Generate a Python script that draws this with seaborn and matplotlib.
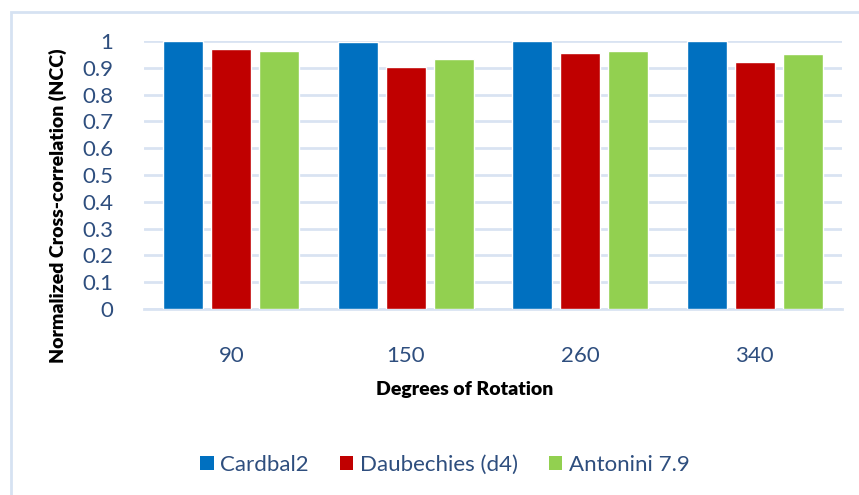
import matplotlib
matplotlib.use("Agg")
import matplotlib.pyplot as plt
import seaborn as sns
import pandas as pd
from matplotlib.patches import Rectangle, Patch

categories = ["90", "150", "260", "340"]
series = ["Cardbal2", "Daubechies (d4)", "Antonini 7.9"]
cardbal2 = [1.0, 0.996, 1.0, 1.0]
daubechies = [0.970, 0.903, 0.955, 0.922]
antonini = [0.963, 0.933, 0.963, 0.951]
colors = ["#0070C0", "#C00000", "#92D050"]
yticks = [0, 0.1, 0.2, 0.3, 0.4, 0.5, 0.6, 0.7, 0.8, 0.9, 1]
ytick_labels = ["0", "0.1", "0.2", "0.3", "0.4", "0.5", "0.6", "0.7", "0.8", "0.9", "1"]

rows = []
for name, vals in zip(series, [cardbal2, daubechies, antonini]):
    for c, v in zip(categories, vals):
        rows.append({"Degrees": c, "Series": name, "NCC": v})
df = pd.DataFrame(rows)

sns.set_theme(style="white")
plt.rcParams["font.family"] = ["Lato", "DejaVu Sans"]

W, H = 859, 495
fig = plt.figure(figsize=(W / 100, H / 100), dpi=100)
ax = fig.add_axes([144 / W, 1 - 309 / H, (842 - 144) / W, (309 - 41) / H])

sns.barplot(data=df, x="Degrees", y="NCC", hue="Series", order=categories,
            hue_order=series, palette=colors, width=0.825, gap=0.167,
            saturation=1, ax=ax, legend=False, errorbar=None)

grid_c = "#D9E3F2"
ax.set_ylim(0, 1)
ax.set_yticks(yticks)
ax.set_yticklabels(ytick_labels)
ax.yaxis.grid(True, color=grid_c, linewidth=2)
ax.set_axisbelow(True)
for s in ["top", "right", "left"]:
    ax.spines[s].set_visible(False)
ax.spines["bottom"].set_color(grid_c)
ax.spines["bottom"].set_linewidth(2)
ax.spines["bottom"].set_zorder(0.5)

txt_c = "#2E4E7E"
ax.tick_params(axis="y", length=0, pad=22, labelsize=16, labelcolor=txt_c)
ax.tick_params(axis="x", length=0, pad=27, labelsize=16, labelcolor=txt_c)

ax.set_xlabel("Degrees of Rotation", fontsize=14, fontweight="heavy", color="black")
ax.set_ylabel("Normalized Cross-correlation (NCC)", fontsize=14, fontweight="heavy", color="black")
ax.xaxis.set_label_coords((465 - 144) / (842 - 144), (309 - 390) / (309 - 41))
ax.xaxis.label.set_va("center")
ax.yaxis.set_label_coords((58 - 144) / (842 - 144), (309 - 206) / (309 - 41))
ax.yaxis.label.set_va("center")

handles = [Patch(facecolor=c, edgecolor="none") for c in colors]
fig.legend(handles, series, loc="center", bbox_to_anchor=(445 / W, 1 - 465 / H),
           ncol=3, frameon=False, fontsize=16, handlelength=0.6, handleheight=0.6,
           handletextpad=0.3, columnspacing=1.4, labelcolor=txt_c)

fig.patches.append(Rectangle((11 / W, -0.5), 2, 0.5 + 1 - 12 / H, transform=fig.transFigure,
                             fill=False, edgecolor="#D6E2F2", linewidth=2))

fig.savefig("out.png", dpi=100)
